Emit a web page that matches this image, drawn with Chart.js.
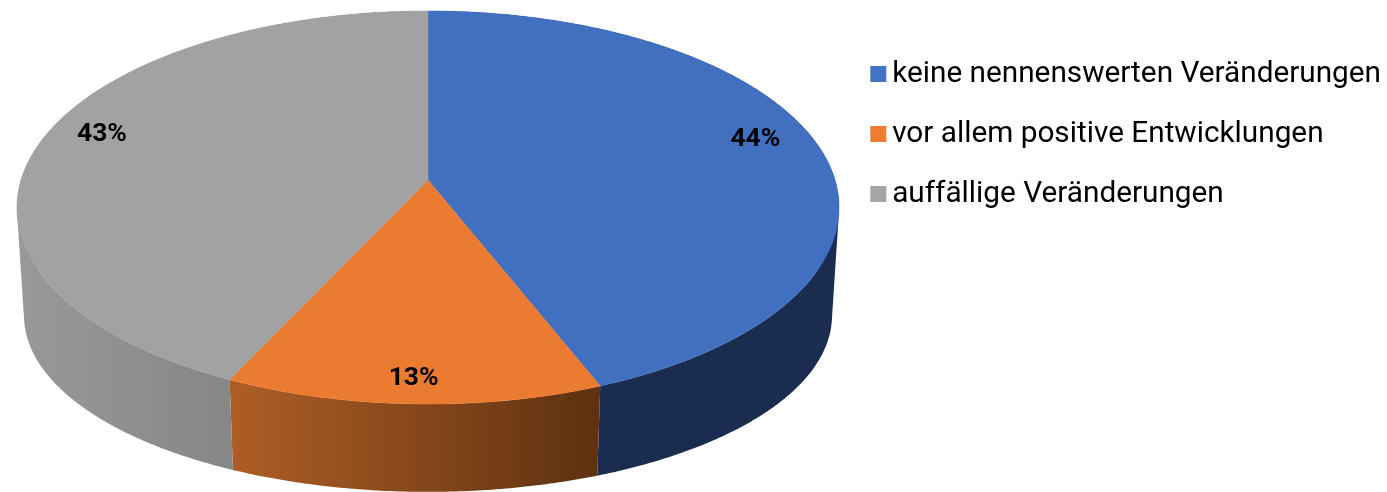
<!DOCTYPE html>
<html>
<head>
<meta charset="utf-8">
<title>Veränderungen</title>
<script src="https://cdn.jsdelivr.net/npm/chart.js@4"></script>
<style>
  html, body { margin: 0; padding: 0; background: #fff; }
  #wrap { width: 1387px; height: 492px; }
</style>
</head>
<body>
<div id="wrap"><canvas id="chart"></canvas></div>
<script>
const categories = ['keine nennenswerten Veränderungen', 'vor allem positive Entwicklungen', 'auffällige Veränderungen'];
const shares = [44, 13, 43];
const faceColors = ['#4170C1', '#EB7B30', '#A2A2A2'];
const legendColors = ['#4472C4', '#ED7D31', '#A5A5A5'];
const wallColors = [['#1A2C4F', '#1A2C4F'], ['#AE5E25', '#5E3110'], ['#999999', '#757575']];

// Perspektive der Scheibe: Einheitskreis -> Bild (oben und unten)
const cx = 428;
const persp = -0.14;
const topFace = { s: 407, a: 167.5, b: 180 };
const bottomFace = { s: 400, a: 132, b: 291 };

function project(face, angle, r) {
  const x = Math.cos(angle) * r;
  const y = Math.sin(angle) * r;
  const d = 1 + persp * y;
  return [cx + face.s * x / d, (face.a * y + face.b) / d];
}

function arcPoints(face, start, end) {
  const steps = Math.ceil((end - start) / 0.01);
  const pts = [];
  for (let i = 0; i <= steps; i++) {
    pts.push(project(face, start + (end - start) * i / steps, 1));
  }
  return pts;
}

function addPolygon(ctx, pts) {
  pts.forEach((p, i) => i ? ctx.lineTo(p[0], p[1]) : ctx.moveTo(p[0], p[1]));
  ctx.closePath();
}

function signedArea(pts) {
  let sum = 0;
  pts.forEach((p, i) => {
    const q = pts[(i + 1) % pts.length];
    sum += p[0] * q[1] - q[0] * p[1];
  });
  return sum;
}

// Verschiebung der Prozentwerte gegenüber der Sektormitte
const labelNudge = [[-5, -11], [-2, 13], [3, -11]];

const pie3d = {
  id: 'pie3d',
  beforeDatasetDraw(chart, args) {
    const ctx = chart.ctx;
    const arcs = args.meta.data;
    const ds = chart.data.datasets[0];

    ctx.save();
    // Seitenwand: alle Stücke gleich orientiert in einen Pfad, sonst hebt sich die Falte am Rand auf
    arcs.forEach((arc, i) => {
      const top = arcPoints(topFace, arc.startAngle, arc.endAngle);
      const bottom = arcPoints(bottomFace, arc.startAngle, arc.endAngle);
      const xs = top.concat(bottom).map(p => p[0]);
      const grad = ctx.createLinearGradient(Math.min(...xs), 0, Math.max(...xs), 0);
      grad.addColorStop(0, wallColors[i][0]);
      grad.addColorStop(1, wallColors[i][1]);
      ctx.beginPath();
      for (let k = 0; k < top.length - 1; k++) {
        const quad = [top[k], top[k + 1], bottom[k + 1], bottom[k]];
        addPolygon(ctx, signedArea(quad) < 0 ? quad.reverse() : quad);
      }
      ctx.fillStyle = grad;
      ctx.fill('nonzero');
    });

    arcs.forEach((arc, i) => {
      const pts = [[cx, topFace.b]].concat(arcPoints(topFace, arc.startAngle, arc.endAngle));
      ctx.beginPath();
      addPolygon(ctx, pts);
      ctx.fillStyle = ds.backgroundColor[i];
      ctx.strokeStyle = ds.backgroundColor[i];
      ctx.lineWidth = 0.5;
      ctx.fill();
      ctx.stroke();
    });

    ctx.fillStyle = '#000';
    ctx.font = 'bold 26.5px Roboto';
    ctx.textAlign = 'center';
    ctx.textBaseline = 'middle';
    arcs.forEach((arc, i) => {
      const p = project(topFace, (arc.startAngle + arc.endAngle) / 2, 0.85);
      ctx.fillText(shares[i] + '%', p[0] + labelNudge[i][0], p[1] + labelNudge[i][1]);
    });
    ctx.restore();
    return false;
  }
};

// Legendenkästchen selbst zeichnen: Chart.js lässt eine halbe Schriftgröße Abstand zum Text
const legendBoxes = {
  id: 'legendBoxes',
  afterDraw(chart) {
    const ctx = chart.ctx;
    chart.legend.legendHitBoxes.forEach((hit, i) => {
      ctx.fillStyle = legendColors[i];
      ctx.fillRect(hit.left - 7, hit.top + hit.height / 2 - 9, 16, 16);
    });
  }
};

new Chart(document.getElementById('chart'), {
  type: 'pie',
  data: {
    labels: categories,
    datasets: [{ data: shares, backgroundColor: faceColors, borderWidth: 0 }]
  },
  options: {
    responsive: true,
    maintainAspectRatio: false,
    animation: false,
    layout: { padding: { top: 33, right: -4 } },
    plugins: {
      tooltip: { enabled: false },
      legend: {
        position: 'right',
        align: 'start',
        labels: {
          color: '#0a0a0a',
          font: { family: 'Roboto', size: 29.75 },
          boxWidth: 0,
          boxHeight: 36,
          padding: 24,
          generateLabels(chart) {
            return categories.map((text, i) => ({
              text,
              fillStyle: 'rgba(0,0,0,0)',
              strokeStyle: 'rgba(0,0,0,0)',
              lineWidth: 0,
              index: i
            }));
          }
        }
      }
    }
  },
  plugins: [pie3d, legendBoxes]
});
</script>
</body>
</html>
